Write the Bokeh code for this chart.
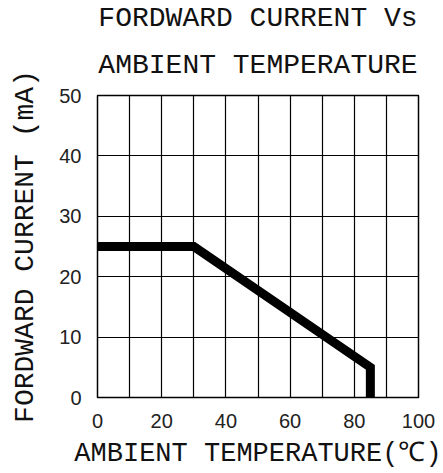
from bokeh.plotting import figure
from bokeh.models import Range1d, FixedTicker, Title
from bokeh.embed import file_html
from bokeh.resources import INLINE

# data
temp = [0, 30, 85, 85]
current = [25, 25, 5, 0]
x_ticks = [0, 20, 40, 60, 80, 100]
y_ticks = [0, 10, 20, 30, 40, 50]
x_grid = [0, 10, 20, 30, 40, 50, 60, 70, 80, 90, 100]
y_grid = [0, 10, 20, 30, 40, 50]
title_lines = ["FORDWARD CURRENT Vs", "AMBIENT TEMPERATURE"]
x_label = "AMBIENT TEMPERATURE(℃)"
y_label = "FORDWARD CURRENT (mA)"

font = "Liberation Mono"
fs = "28px"

p = figure(width=443, height=473, output_backend="svg", toolbar_location=None,
           x_range=Range1d(0, 100), y_range=Range1d(0, 50),
           min_border_left=97, min_border_right=25, min_border_top=95, min_border_bottom=76)
p.background_fill_color = "white"
p.border_fill_color = "white"
p.outline_line_color = "black"
p.outline_line_width = 1.5

for ax in (p.xaxis[0], p.yaxis[0]):
    ax.axis_line_color = None
    ax.major_tick_line_color = None
    ax.minor_tick_line_color = None
    ax.major_label_text_font = "Liberation Sans"
    ax.major_label_text_font_size = "20px"
    ax.major_label_text_color = "#222222"
    ax.axis_label_text_font = font
    ax.axis_label_text_font_size = fs
    ax.axis_label_text_font_style = "normal"
    ax.axis_label_text_color = "#111111"
p.xaxis.ticker = FixedTicker(ticks=x_ticks)
p.yaxis.ticker = FixedTicker(ticks=y_ticks)
p.xaxis.major_label_standoff = 10
p.yaxis.major_label_standoff = 10
p.xaxis.axis_label = x_label
p.yaxis.axis_label = y_label
p.xaxis.axis_label_text_font_size = "27px"
p.xaxis.axis_label_standoff = 8
p.yaxis.axis_label_standoff = 15

p.xgrid.ticker = FixedTicker(ticks=x_grid)
p.ygrid.ticker = FixedTicker(ticks=y_grid)
for g in (p.xgrid[0], p.ygrid[0]):
    g.grid_line_color = "black"
    g.grid_line_width = 1.2

p.line(temp, current, line_color="black", line_width=9, line_cap="square", line_join="miter")

p.add_layout(Title(text=title_lines[1], align="center", text_font=font, text_font_size=fs,
                   text_font_style="normal", text_color="#111111", standoff=29), "above")
p.add_layout(Title(text=title_lines[0], align="center", text_font=font, text_font_size=fs,
                   text_font_style="normal", text_color="#111111", standoff=0), "above")

open("out.html", "w").write(file_html(p, INLINE))
